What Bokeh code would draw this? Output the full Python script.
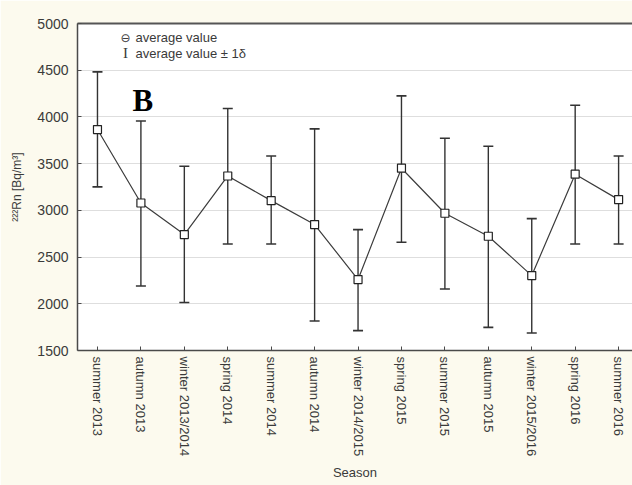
from bokeh.plotting import figure
from bokeh.models import (FixedTicker, LinearAxis, Range1d, ColumnDataSource,
                          Whisker, TeeHead, Label)
from bokeh.embed import file_html
from bokeh.resources import INLINE

seasons = ["summer 2013", "autumn 2013", "winter 2013/2014", "spring 2014",
           "summer 2014", "autumn 2014", "winter 2014/2015", "spring 2015",
           "summer 2015", "autumn 2015", "winter 2015/2016", "spring 2016",
           "summer 2016"]
mean_val = [3865, 3079, 2741, 3368, 3104, 2848, 2259, 3451, 2969, 2723, 2302, 3387, 3115]
upper_val = [4482, 3957, 3472, 4090, 3582, 3872, 2794, 4225, 3772, 3686, 2912, 4125, 3582]
lower_val = [3251, 2190, 2013, 2640, 2640, 1816, 1713, 2658, 2158, 1748, 1687, 2640, 2640]
y_ticks = [1500, 2000, 2500, 3000, 3500, 4000, 4500, 5000]

idx = list(range(len(seasons)))
src = ColumnDataSource(dict(x=idx, m=mean_val, up=upper_val, lo=lower_val))

CREAM = "#fcfaee"
TXT = "#3a3a3a"
AX = "#4a4a4a"

p = figure(width=632, height=485, output_backend="svg", toolbar_location=None,
           x_range=Range1d(-0.46, 12.32), y_range=Range1d(1500, 5000),
           min_border_left=77, min_border_right=0, min_border_top=23,
           min_border_bottom=135)
p.border_fill_color = CREAM
p.background_fill_color = "white"
p.outline_line_color = None

# error bars
w = Whisker(source=src, base="x", upper="up", lower="lo", dimension="height",
            line_color="#333333", line_width=1.4,
            upper_head=TeeHead(size=10, line_color="#333333", line_width=1.6),
            lower_head=TeeHead(size=10, line_color="#333333", line_width=1.6))
p.add_layout(w)

p.line("x", "m", source=src, line_color="#3c3c3c", line_width=1.2)
p.scatter("x", "m", source=src, marker="square", size=8, fill_color="white",
          line_color="#222222", line_width=1.2)

# axes
p.xaxis.ticker = FixedTicker(ticks=idx)
p.xaxis.major_label_overrides = {i: s for i, s in enumerate(seasons)}
p.xaxis.major_label_orientation = "vertical"
p.xaxis.major_label_text_font = "Liberation Sans"
p.xaxis.major_label_text_font_size = "13px"
p.xaxis.major_label_text_color = TXT
p.xaxis.major_label_standoff = 6
p.xaxis.axis_label = "Season"
p.xaxis.axis_label_text_font = "Liberation Sans"
p.xaxis.axis_label_text_font_size = "13px"
p.xaxis.axis_label_text_font_style = "normal"
p.xaxis.axis_label_text_color = TXT
p.xaxis.axis_label_standoff = 6

p.yaxis.ticker = FixedTicker(ticks=y_ticks)
p.yaxis.major_label_text_font = "Liberation Sans"
p.yaxis.major_label_text_font_size = "14px"
p.yaxis.major_label_text_color = TXT
p.yaxis.major_label_standoff = 9
p.yaxis.axis_label = "²²²Rn [Bq/m³]"
p.yaxis.axis_label_text_font = "Liberation Sans"
p.yaxis.axis_label_text_font_size = "12px"
p.yaxis.axis_label_text_font_style = "normal"
p.yaxis.axis_label_text_color = TXT
p.yaxis.axis_label_standoff = 10

for ax in (p.xaxis[0], p.yaxis[0]):
    ax.major_tick_in = 4
    ax.major_tick_out = 0
    ax.minor_tick_in = 0
    ax.minor_tick_out = 0
    ax.axis_line_color = AX
    ax.axis_line_width = 1.5
    ax.major_tick_line_color = AX

top = LinearAxis(ticker=FixedTicker(ticks=[]), major_label_standoff=0,
                 major_tick_in=0, major_tick_out=0, minor_tick_in=0, minor_tick_out=0,
                 axis_line_color="#555555", axis_line_width=2)
p.add_layout(top, "above")

p.xgrid.grid_line_color = None
p.ygrid.grid_line_color = "#dedede"
p.ygrid.grid_line_width = 1
p.ygrid.ticker = FixedTicker(ticks=y_ticks)

# legend (drawn as text)
p.add_layout(Label(x=0.645, y=4846, text="⊖", text_font="DejaVu Sans",
                   text_font_size="12px", text_color=TXT,
                   text_align="center", text_baseline="middle"))
p.add_layout(Label(x=0.875, y=4846, text="average value", text_font="Liberation Sans",
                   text_font_size="13px", text_color=TXT, text_baseline="middle"))
p.add_layout(Label(x=0.645, y=4679, text="I", text_font="Liberation Serif",
                   text_font_size="15px", text_color=TXT,
                   text_align="center", text_baseline="middle"))
p.add_layout(Label(x=0.875, y=4679, text="average value ± 1δ", text_font="Liberation Sans",
                   text_font_size="13px", text_color=TXT, text_baseline="middle"))
p.add_layout(Label(x=0.806, y=4180, text="B", text_font="Liberation Serif",
                   text_font_size="31px", text_font_style="bold", text_color="black",
                   text_baseline="alphabetic"))

open("out.html", "w").write(file_html(p, INLINE))
